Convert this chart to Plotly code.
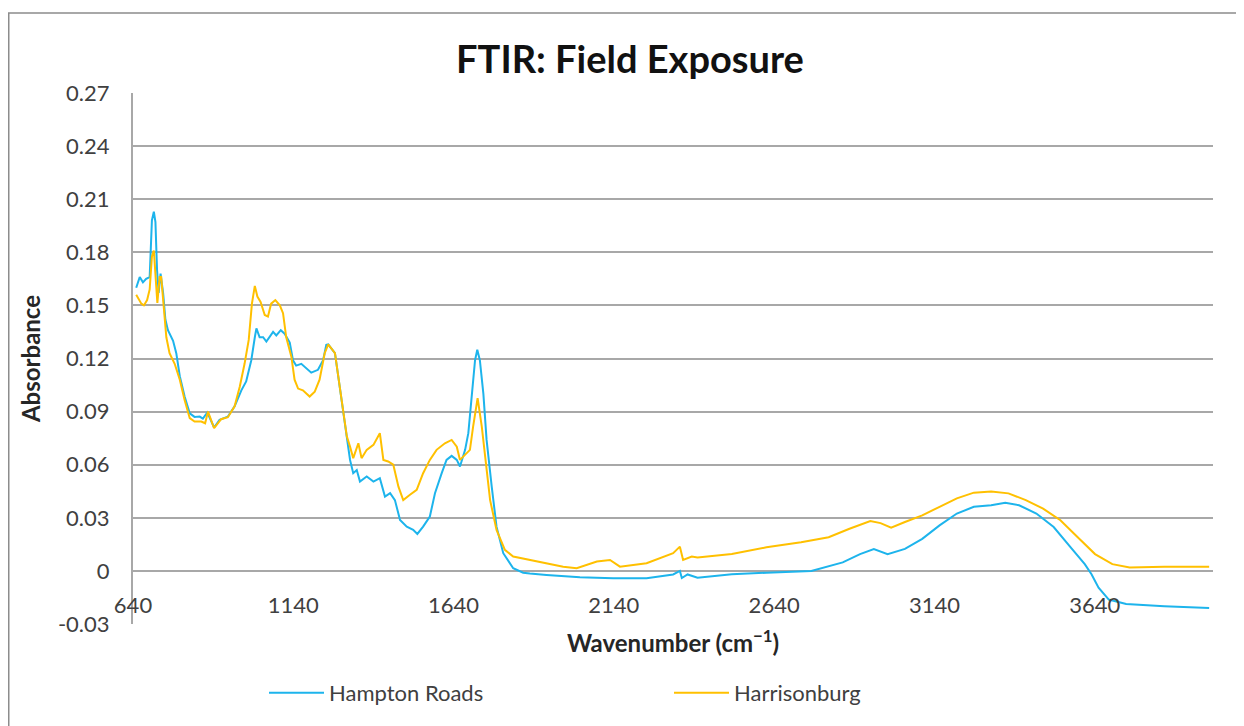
import plotly.graph_objects as go

# ---------------- data ----------------
wn_hampton = [650, 661, 671, 681, 692, 699, 705, 710, 715, 720, 726, 734, 741, 749, 765, 775, 786, 801,
              817, 832, 848, 858, 872, 893, 910, 936, 957, 978, 993, 1009, 1020, 1025, 1035, 1046, 1056,
              1066, 1077, 1087, 1101, 1113, 1129, 1139, 1149, 1165, 1181, 1196, 1217, 1233, 1243, 1249,
              1270, 1286, 1296, 1307, 1317, 1327, 1338, 1348, 1369, 1390, 1410, 1426, 1442, 1457, 1473,
              1494, 1514, 1527, 1545, 1566, 1582, 1603, 1618, 1634, 1650, 1660, 1676, 1686, 1696, 1707,
              1714, 1722, 1733, 1743, 1759, 1774, 1795, 1826, 1857, 1878, 1930, 2034, 2138, 2242, 2325,
              2346, 2352, 2370, 2401, 2508, 2616, 2756, 2854, 2908, 2951, 2994, 3048, 3102, 3156, 3210,
              3263, 3317, 3361, 3404, 3458, 3512, 3565, 3609, 3630, 3652, 3684, 3738, 3857, 3997]
abs_hampton = [0.160, 0.166, 0.163, 0.165, 0.166, 0.198, 0.203, 0.197, 0.170, 0.157, 0.168, 0.157, 0.142,
               0.136, 0.130, 0.123, 0.110, 0.0985, 0.089, 0.087, 0.0872, 0.086, 0.0895, 0.081, 0.0853,
               0.0872, 0.093, 0.102, 0.107, 0.119, 0.132, 0.137, 0.132, 0.132, 0.1296, 0.132, 0.135,
               0.133, 0.136, 0.134, 0.129, 0.119, 0.116, 0.117, 0.1145, 0.112, 0.1136, 0.119, 0.1277,
               0.128, 0.123, 0.102, 0.089, 0.076, 0.0627, 0.0552, 0.057, 0.0505, 0.0533, 0.0505, 0.0524,
               0.042, 0.0439, 0.040, 0.0288, 0.025, 0.0232, 0.0209, 0.025, 0.0307, 0.0439, 0.0552,
               0.0627, 0.065, 0.0627, 0.059, 0.0684, 0.0778, 0.0985, 0.119, 0.1249, 0.119, 0.100,
               0.074, 0.0476, 0.025, 0.010, 0.0015, -0.001, -0.0015, -0.0023, -0.0036, -0.0041,
               -0.0041, -0.002, 0.000, -0.004, -0.002, -0.0038, -0.0019, -0.001, 0.0, 0.0048, 0.0095,
               0.0124, 0.0095, 0.0124, 0.0181, 0.0257, 0.0324, 0.0362, 0.0371, 0.0385, 0.0371, 0.0324,
               0.0248, 0.0133, 0.0038, -0.0019, -0.0095, -0.0162, -0.0187, -0.020, -0.021]

wn_harrisonburg = [650, 666, 674, 684, 692, 699, 705, 710, 716, 723, 728, 736, 744, 754, 770, 786, 801,
                   817, 832, 853, 865, 874, 893, 915, 936, 957, 973, 988, 1001, 1011, 1020, 1028, 1038,
                   1051, 1061, 1071, 1084, 1098, 1108, 1118, 1134, 1144, 1155, 1170, 1191, 1207, 1222,
                   1238, 1249, 1270, 1286, 1296, 1307, 1317, 1327, 1343, 1353, 1369, 1390, 1410, 1421,
                   1436, 1452, 1468, 1483, 1504, 1525, 1545, 1566, 1587, 1613, 1634, 1650, 1660, 1676,
                   1691, 1701, 1715, 1728, 1741, 1754, 1774, 1800, 1826, 1878, 1982, 2024, 2087, 2128,
                   2159, 2242, 2325, 2346, 2356, 2383, 2401, 2508, 2616, 2724, 2810, 2875, 2940, 2972,
                   3005, 3048, 3102, 3156, 3210, 3263, 3317, 3371, 3425, 3479, 3533, 3587, 3641, 3695,
                   3749, 3857, 3997]
abs_harrisonburg = [0.156, 0.151, 0.150, 0.153, 0.159, 0.1776, 0.181, 0.168, 0.1514, 0.166, 0.166, 0.149,
                    0.132, 0.123, 0.117, 0.108, 0.0966, 0.0863, 0.0844, 0.0844, 0.0834, 0.090, 0.0806,
                    0.0857, 0.0868, 0.093, 0.104, 0.117, 0.1305, 0.151, 0.161, 0.155, 0.152, 0.1446,
                    0.1437, 0.151, 0.153, 0.150, 0.1456, 0.132, 0.121, 0.108, 0.103, 0.102, 0.0985,
                    0.1013, 0.108, 0.123, 0.128, 0.123, 0.102, 0.089, 0.076, 0.0702, 0.0637, 0.0721,
                    0.0637, 0.0684, 0.0712, 0.0778, 0.0627, 0.0618, 0.060, 0.0476, 0.040, 0.043, 0.0458,
                    0.0552, 0.0627, 0.0684, 0.0721, 0.074, 0.0702, 0.0627, 0.0655, 0.0684, 0.0815,
                    0.0976, 0.0815, 0.059, 0.040, 0.0232, 0.0119, 0.0081, 0.0062, 0.0024, 0.0015, 0.0053,
                    0.0062, 0.0024, 0.0043, 0.010, 0.0137, 0.0062, 0.0081, 0.0076, 0.0095, 0.0133, 0.0162,
                    0.019, 0.0238, 0.0282, 0.027, 0.0244, 0.0276, 0.0314, 0.0362, 0.041, 0.0442, 0.0448,
                    0.0438, 0.040, 0.0352, 0.0286, 0.019, 0.0095, 0.0038, 0.0019, 0.0023, 0.0023]

series_names = ["Hampton Roads", "Harrisonburg"]
x_tick_vals = [640, 1140, 1640, 2140, 2640, 3140, 3640]
x_tick_text = ["640", "1140", "1640", "2140", "2640", "3140", "3640"]
y_tick_vals = [-0.03, 0, 0.03, 0.06, 0.09, 0.12, 0.15, 0.18, 0.21, 0.24, 0.27]
y_tick_text = ["-0.03", "0", "0.03", "0.06", "0.09", "0.12", "0.15", "0.18", "0.21", "0.24", "0.27"]

# ---------------- figure ----------------
FONT = "Lato, 'Open Sans', sans-serif"
W, H = 1236, 718            # page body has an 8px margin inside the 1244x726 window
ML, MR, MT, MB = 125, 31, 85, 102
plot_w, plot_h = W - ML - MR, H - MT - MB
y_min, y_max = -0.03, 0.27
x_min, x_max = 640, 4009

fig = go.Figure()
fig.add_trace(go.Scatter(x=wn_hampton, y=abs_hampton, mode="lines", name=series_names[0],
                         line=dict(color="#1DB4EC", width=2)))
fig.add_trace(go.Scatter(x=wn_harrisonburg, y=abs_harrisonburg, mode="lines", name=series_names[1],
                         line=dict(color="#FFC000", width=2)))


def px_to_paper_x(px):
    return (px - ML) / plot_w


def px_to_paper_y(py):
    return (H - MB - py) / plot_h


# outer chart border
fig.add_shape(type="rect", xref="paper", yref="paper",
              x0=px_to_paper_x(0.75), x1=px_to_paper_x(1232),
              y0=px_to_paper_y(740), y1=px_to_paper_y(5),
              line=dict(color="#8C8C8C", width=1.5), fillcolor="rgba(0,0,0,0)", layer="below")

fig.update_layout(
    width=W, height=H,
    margin=dict(l=ML, r=MR, t=MT, b=MB, autoexpand=False),
    paper_bgcolor="white", plot_bgcolor="white",
    font=dict(family=FONT, color="#404040", size=22),
    title=dict(text="<b>FTIR: Field Exposure</b>", x=622 / W, xanchor="center", xref="container",
               y=1 - 52 / H, yanchor="middle", yref="container",
               font=dict(family=FONT, size=38, color="#111111")),
    showlegend=True,
    legend=dict(orientation="h", x=px_to_paper_x(256), xanchor="left",
                y=px_to_paper_y(685), yanchor="middle",
                itemwidth=55,
                entrywidth=335, entrywidthmode="pixels",
                font=dict(family=FONT, size=22, color="#404040"),
                bgcolor="rgba(0,0,0,0)"),
    xaxis=dict(range=[x_min, x_max], tickmode="array", tickvals=x_tick_vals, ticktext=x_tick_text,
               showgrid=False, zeroline=False, showline=False, ticks="",
               anchor="free", position=(0 - y_min) / (y_max - y_min),
               ticklabelstandoff=19,
               tickfont=dict(family=FONT, size=22, color="#404040"),
               title=dict(text="<b>Wavenumber (cm<sup>−1</sup>)</b>", standoff=18,
                          font=dict(family=FONT, size=24, color="#262626"))),
    yaxis=dict(range=[y_min, y_max], tickmode="array", tickvals=y_tick_vals, ticktext=y_tick_text,
               showgrid=True, gridcolor="#A8A8A8", gridwidth=2,
               zeroline=False, showline=True, linecolor="#A8A8A8", linewidth=2, ticks="",
               ticklabelstandoff=17,
               tickfont=dict(family=FONT, size=22, color="#404040"),
               title=dict(text="<b>Absorbance</b>", standoff=11,
                          font=dict(family=FONT, size=24, color="#262626"))),
)

fig.write_html("out.html")
